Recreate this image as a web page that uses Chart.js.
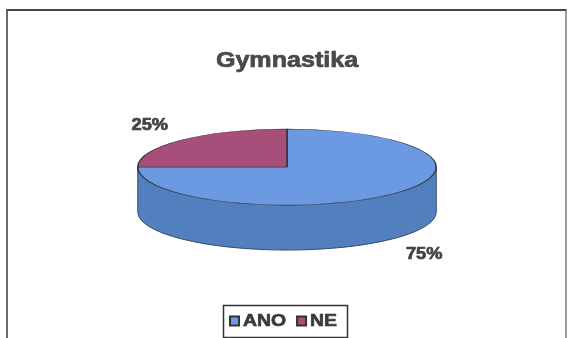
<!DOCTYPE html>
<html>
<head>
<meta charset="utf-8">
<script src="https://cdn.jsdelivr.net/npm/chart.js@4"></script>
<style>
  body { margin: 0; background: #fff; }
  #wrap { position: relative; width: 568px; height: 338px; overflow: hidden; }
  #frame { position: absolute; left: 6px; top: 9px; width: 557px; height: 340px;
           border-left: 2px solid #6a6a6a; border-top: 2px solid #444; border-right: 2px solid #999; }
  canvas { position: absolute; left: 0; top: 0; }
</style>
</head>
<body>
<div id="wrap">
  <div id="frame"></div>
  <canvas id="gymChart" width="568" height="338"></canvas>
</div>
<script>
const title = 'Gymnastika';
const labels = ['ANO', 'NE'];
const values = [75, 25];
const topColors = ['#6b9ae2', '#a54f7a'];
const sideColors = ['#5280be', '#7e3a5c'];

const squash = 0.255;   // vertical flattening of the pie
const depth = 45;       // thickness of the 3d side
const textStretch = 1.14;

function stretchedText(ctx, text, x, y, font, color) {
    ctx.save();
    ctx.font = font;
    ctx.fillStyle = color;
    ctx.strokeStyle = color;
    ctx.lineWidth = 0.7;
    ctx.textAlign = 'center';
    ctx.textBaseline = 'middle';
    ctx.translate(x, y);
    ctx.scale(textStretch, 1);
    ctx.fillText(text, 0, 0);
    ctx.strokeText(text, 0, 0);
    ctx.restore();
}

const pie3d = {
    id: 'pie3d',
    beforeDatasetsDraw(chart) {
        const ctx = chart.ctx;
        const arcs = chart.getDatasetMeta(0).data;
        // side walls, only the front half is visible
        arcs.forEach((arc, i) => {
            const a1 = Math.max(arc.startAngle, 0);
            const a2 = Math.min(arc.endAngle, Math.PI);
            if (a2 <= a1) return;
            const rx = arc.outerRadius, ry = arc.outerRadius * squash;
            ctx.save();
            ctx.beginPath();
            ctx.ellipse(arc.x, arc.y, rx, ry, 0, a1, a2, false);
            ctx.lineTo(arc.x + rx * Math.cos(a2), arc.y + ry * Math.sin(a2) + depth);
            ctx.ellipse(arc.x, arc.y + depth, rx, ry, 0, a2, a1, true);
            ctx.closePath();
            ctx.fillStyle = sideColors[i];
            ctx.fill();
            ctx.lineWidth = 1;
            ctx.strokeStyle = '#3a4a66';
            ctx.stroke();
            ctx.restore();
        });
        const a = arcs[0];
        ctx.save();
        ctx.translate(a.x, a.y);
        ctx.scale(1, squash);
        ctx.translate(-a.x, -a.y);
    },
    afterDatasetsDraw(chart) {
        const ctx = chart.ctx;
        ctx.restore();
        const arcs = chart.getDatasetMeta(0).data;
        const total = values.reduce((s, v) => s + v, 0);
        arcs.forEach((arc, i) => {
            const mid = (arc.startAngle + arc.endAngle) / 2;
            const rx = arc.outerRadius, ry = arc.outerRadius * squash;
            const s = Math.sin(mid);
            const x = arc.x + rx * 1.3 * Math.cos(mid);
            const y = arc.y + ry * 1.3 * s + (s > 0 ? depth + 8 : -6);
            stretchedText(ctx, Math.round(values[i] / total * 100) + '%', x, y, 'bold 16px "Liberation Sans", Arial', '#444');
        });
        // title
        stretchedText(ctx, title, 287, 61, 'bold 22px "Liberation Sans", Arial', '#4a4a4a');
        // legend
        ctx.save();
        const lfont = 'bold 17px "Liberation Sans", Arial';
        ctx.font = lfont;
        const items = labels.map((l, i) => ({ l, w: ctx.measureText(l).width * textStretch }));
        const sq = 11, gapSq = 3, gapItem = 10;
        const totalW = items.reduce((s, it) => s + sq + gapSq + it.w, 0) + gapItem * (items.length - 1);
        let lx = 283 - totalW / 2;
        const ly = 321;
        ctx.strokeStyle = '#333';
        ctx.lineWidth = 1.5;
        ctx.strokeRect(Math.round(lx - 6) + 0.5, 305.5, Math.round(totalW + 16), 32);
        items.forEach((it, i) => {
            ctx.fillStyle = '#333';
            ctx.fillRect(lx, ly - sq / 2, sq, sq);
            ctx.fillStyle = topColors[i];
            ctx.fillRect(lx + 2, ly - sq / 2 + 2, sq - 4, sq - 4);
            stretchedText(ctx, it.l, lx + sq + gapSq + it.w / 2, ly, lfont, '#3a3a3a');
            lx += sq + gapSq + it.w + gapItem;
        });
        ctx.restore();
    }
};

new Chart(document.getElementById('gymChart').getContext('2d'), {
    type: 'pie',
    data: {
        labels: labels,
        datasets: [{
            data: values,
            backgroundColor: topColors,
            borderColor: '#333',
            borderWidth: 1.5
        }]
    },
    options: {
        responsive: false,
        animation: false,
        layout: { padding: { left: 137, right: 131, top: 17, bottom: 21 } },
        plugins: {
            legend: { display: false },
            title: { display: false },
            tooltip: { enabled: false }
        }
    },
    plugins: [pie3d]
});
</script>
</body>
</html>
